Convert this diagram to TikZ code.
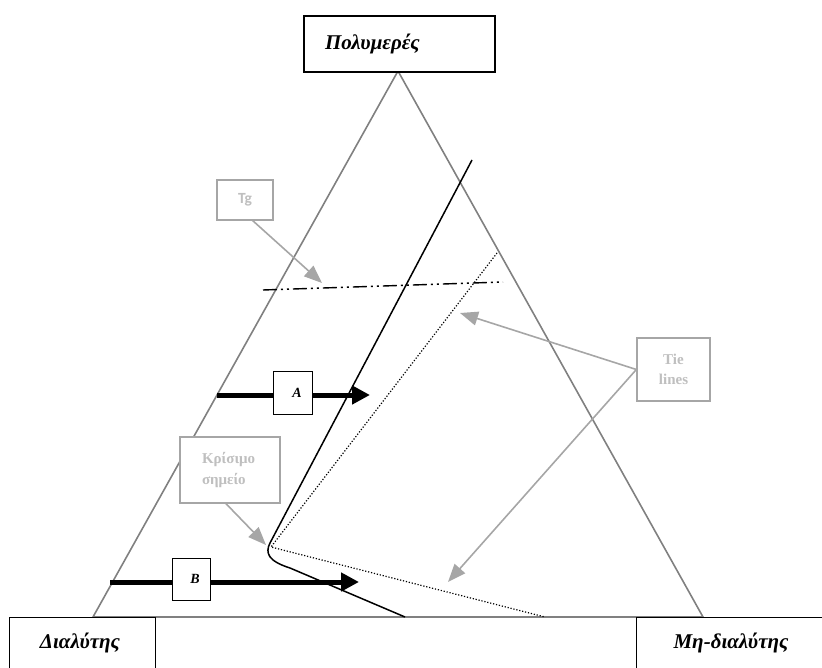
\documentclass[tikz,border=0pt]{standalone}
\usepackage{fontspec}
\setmainfont{Liberation Serif}
\newfontfamily\calib{Carlito}
\usetikzlibrary{arrows.meta}
\definecolor{triline}{HTML}{808080}
\definecolor{lblline}{HTML}{A6A6A6}
\definecolor{lbltext}{HTML}{BFBFBF}
\tikzset{
  mainbox/.style={draw=black, line width=1.3pt, fill=white, inner sep=0pt, font=\fontsize{21}{24}\selectfont\bfseries\itshape},
  smallbox/.style={draw=black, line width=1pt, fill=white, inner sep=0pt, font=\fontsize{14}{16}\selectfont\bfseries\itshape},
  bottomlabel/.style={font=\fontsize{21}{24}\selectfont\bfseries\itshape},
  greybox/.style={draw=lblline, line width=1.3pt, fill=white, inner sep=0pt, text=lbltext},
  greyarrow/.style={draw=lblline, line width=1.6pt, -{Triangle[length=18pt,width=14pt]}, lblline},
  thickarrow/.style={line width=5pt, -{Triangle[length=18pt,width=18pt]}},
  tgline/.style={line width=1.4pt, dash pattern=on 14pt off 4pt on 2pt off 4pt on 2pt off 4pt},
  tieline/.style={line width=1.2pt, dash pattern=on 1.2pt off 1.8pt},
}
\begin{document}
\begin{tikzpicture}[x=1pt,y=-1pt]
\useasboundingbox (0,0) rectangle (822,668);
% triangle
\coordinate (apex) at (398,71);
\coordinate (bl) at (93,617);
\coordinate (br) at (703,617);
\draw[triline, line width=1.6pt, line join=miter] (bl) -- (apex) -- (br) -- cycle;
% bottom boxes
\draw[line width=1pt] (9,668) -- (9,617) -- (155,617) -- (155,668);
\draw[line width=1pt] (636,668) -- (636,617) -- (822,617);
\node[bottomlabel] (solv) at (80,643) {Διαλύτης};
\node[bottomlabel] (nonsolv) at (731,643) {Μη-διαλύτης};
% polymer box
\node[mainbox, minimum width=191pt, minimum height=56pt, text width=149pt, align=left] (poly) at (399.5,44) {Πολυμερές};
% Tg line
\coordinate (tg1) at (263,290);
\coordinate (tg2) at (503,282);
\draw[tgline] (tg1) -- (tg2);
% binodal
\coordinate (bin1) at (472,160);
\coordinate (crit) at (270,543);
\coordinate (bin2) at (290,568);
\coordinate (bin3) at (405,617);
\draw[line width=1.5pt] (bin1) -- (crit) .. controls (265,553) and (268,561) .. (bin2) -- (bin3);
% tie line (dotted)
\coordinate (tie1) at (497,253);
\coordinate (tiec) at (271,547);
\coordinate (tie2) at (545,617);
\draw[tieline] (tie1) -- (tiec) -- (tie2);
% arrows A and B
\coordinate (a1) at (217,395);
\coordinate (a2) at (370,395);
\draw[thickarrow] (a1) -- (a2);
\node[smallbox, minimum width=39pt, minimum height=43pt] (boxA) at (292.5,393) {\hspace*{9pt}A};
\coordinate (b1) at (110,582);
\coordinate (b2) at (359,582);
\draw[thickarrow] (b1) -- (b2);
\node[smallbox, minimum width=38pt, minimum height=42pt] (boxB) at (191,579) {\hspace*{8pt}B};
% grey labels
\node[greybox, minimum width=56pt, minimum height=40pt, font=\calib\fontsize{15.5}{18}\selectfont\bfseries] (tg) at (245,200) {Tg};
\coordinate (tgtip) at (322,283);
\draw[greyarrow] (252,220) -- (tgtip);
\node[greybox, minimum width=100pt, minimum height=66pt, text width=56pt, align=left, font=\fontsize{15}{21}\selectfont\bfseries] (krit) at (230,470) {Κρίσιμο\\σημείο};
\coordinate (krtip) at (266,545);
\draw[greyarrow] (krit.south) ++(-4,0) -- (krtip);
\node[greybox, minimum width=73pt, minimum height=63pt, align=center, font=\fontsize{15}{20}\selectfont\bfseries] (tie) at (673.5,369.5) {Tie\\lines};
\coordinate (tt1) at (460,313);
\coordinate (tt2) at (448,582);
\draw[greyarrow] (tie.west) -- (tt1);
\draw[greyarrow] (tie.west) -- (tt2);
\end{tikzpicture}
\end{document}
